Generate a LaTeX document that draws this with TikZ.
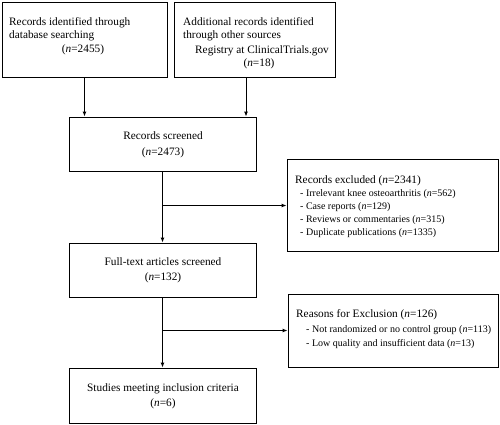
\documentclass[tikz,border=0pt]{standalone}
\usepackage{fontspec}
\setmainfont{Liberation Serif}
\usetikzlibrary{arrows.meta}
\begin{document}
\begin{tikzpicture}[x=1pt,y=-1pt,
  box/.style={draw, line width=0.9pt, inner sep=0pt, fill=white},
  big/.style={inner sep=0pt, font=\fontsize{11.3}{13}\selectfont},
  small/.style={inner sep=0pt, font=\fontsize{10}{12}\selectfont},
  arr/.style={line width=0.9pt, -{Latex[length=5pt,width=4pt]}},
  ln/.style={line width=0.9pt}]
\useasboundingbox[fill=white] (0,0) rectangle (500,424);
% boxes
\node[box, minimum width=165pt, minimum height=75pt] (a) at (84.5,39.5) {};
\node[box, minimum width=161pt, minimum height=75pt] (b) at (254.5,39.5) {};
\node[box, minimum width=187pt, minimum height=54pt] (c) at (162.5,144) {};
\node[box, minimum width=211pt, minimum height=92pt] (ex) at (392.5,205.5) {};
\node[box, minimum width=187pt, minimum height=54pt] (ft) at (162.5,270) {};
\node[box, minimum width=210pt, minimum height=73pt] (rs) at (393,330.5) {};
\node[box, minimum width=187pt, minimum height=55pt] (fin) at (162.5,395.5) {};
% texts
\node[big, anchor=base west] (a1) at (9,25) {Records identified through};
\node[big, anchor=base west] (a2) at (9,38) {database searching};
\node[big, anchor=base] (a3) at (83,52) {(\textit{n}=2455)};
\node[big, anchor=base west] (b1) at (183,25) {Additional records identified};
\node[big, anchor=base west] (b2) at (183,38) {through other sources};
\node[big, anchor=base] (b3) at (262,53) {Registry at ClinicalTrials.gov};
\node[big, anchor=base] (b4) at (259,66) {(\textit{n}=18)};
\node[big, anchor=base] (c1) at (163,139) {Records screened};
\node[big, anchor=base] (c2) at (163,155) {(\textit{n}=2473)};
\node[big, anchor=base west] (e0) at (295,183) {Records excluded (\textit{n}=2341)};
\node[small, anchor=base west] (e1) at (300,196) {- Irrelevant knee osteoarthritis (\textit{n}=562)};
\node[small, anchor=base west] (e2) at (300,209) {- Case reports (\textit{n}=129)};
\node[small, anchor=base west] (e3) at (300,222) {- Reviews or commentaries (\textit{n}=315)};
\node[small, anchor=base west] (e4) at (300,235) {- Duplicate publications (\textit{n}=1335)};
\node[big, anchor=base] (f1) at (163,265) {Full-text articles screened};
\node[big, anchor=base] (f2) at (163,280) {(\textit{n}=132)};
\node[big, anchor=base west] (r0) at (296,317) {Reasons for Exclusion (\textit{n}=126)};
\node[small, anchor=base west] (r1) at (306,332) {- Not randomized or no control group (\textit{n}=113)};
\node[small, anchor=base west] (r2) at (306,346) {- Low quality and insufficient data (\textit{n}=13)};
\node[big, anchor=base] (s1) at (163,391) {Studies meeting inclusion criteria};
\node[big, anchor=base] (s2) at (163,406) {(\textit{n}=6)};
% connectors
\draw[arr] (a.south) -- (a.south |- c.north);
\draw[arr] ([xshift=-8.5pt]b.south) -- ([xshift=-8.5pt]b.south |- c.north);
\draw[arr] (c.south) -- (ft.north);
\draw[arr] (c.south |- ex.west) -- (ex.west);
\draw[arr] (ft.south) -- (fin.north);
\draw[arr] (ft.south |- rs.west) -- (rs.west);
\end{tikzpicture}
\end{document}
